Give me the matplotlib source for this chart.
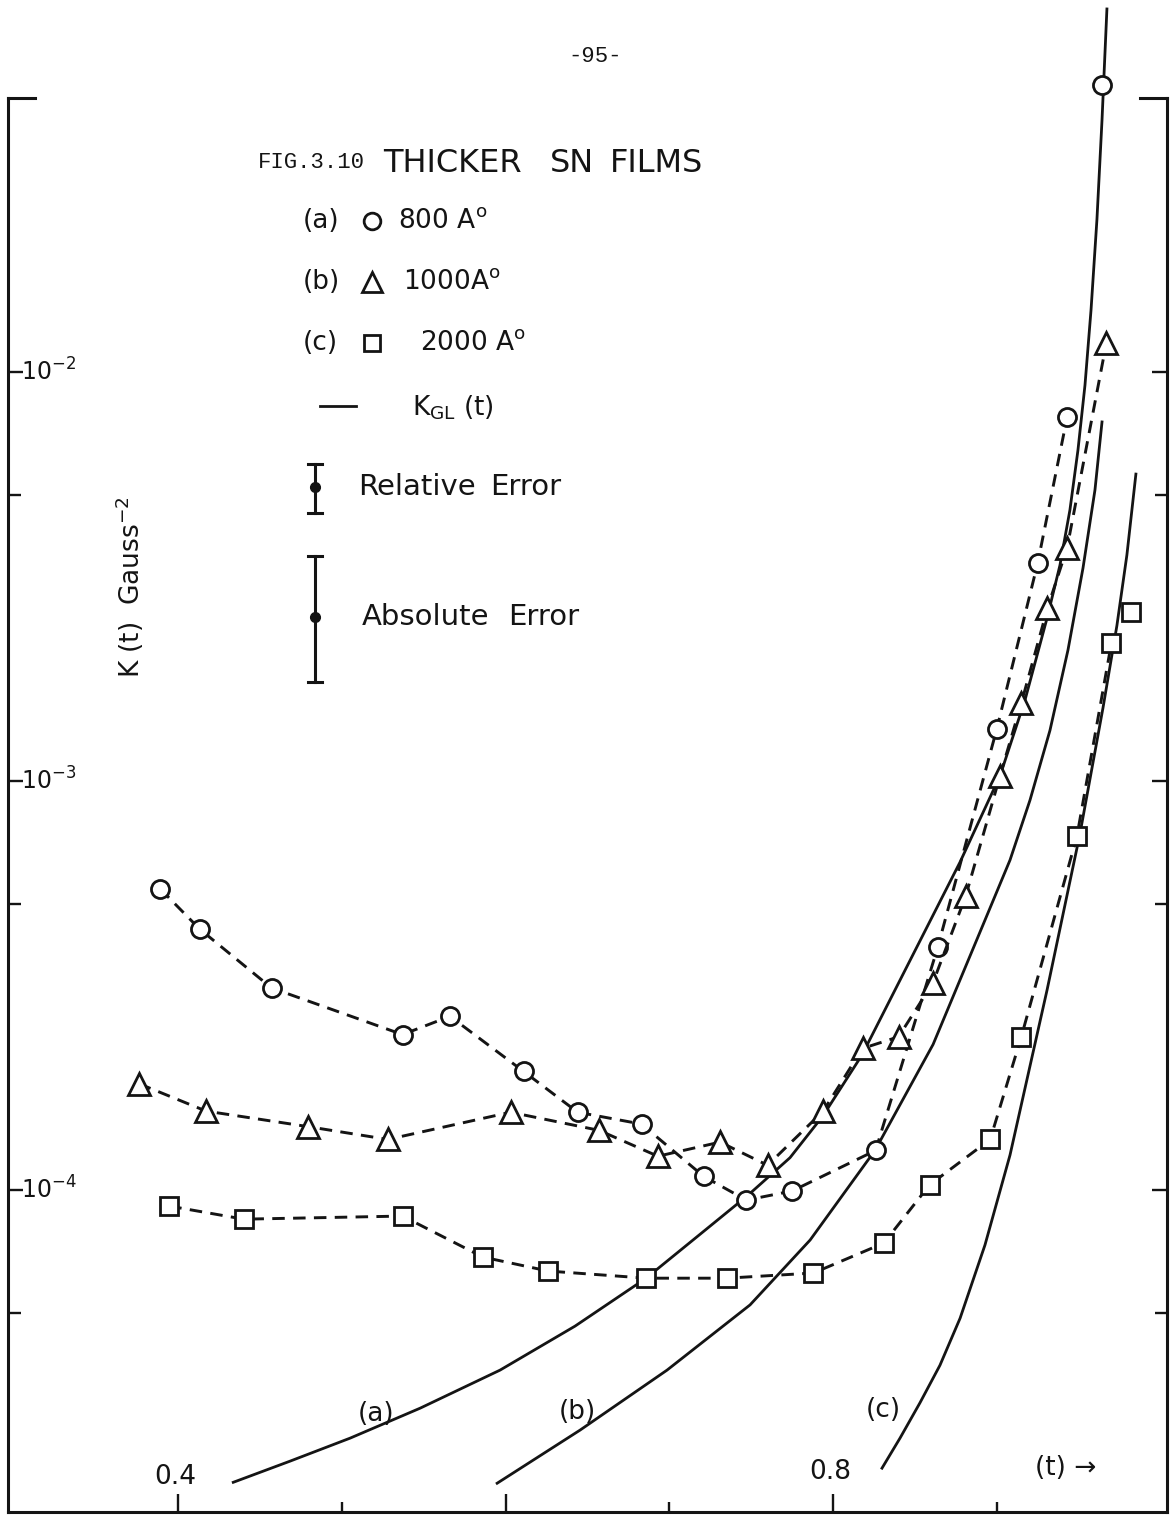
import matplotlib.pyplot as plt
from matplotlib.lines import Line2D
from matplotlib.ticker import FixedLocator, NullFormatter
import matplotlib.transforms as mtransforms

plt.rcParams['font.family'] = ['DejaVu Sans']
plt.rcParams['mathtext.fontset'] = 'dejavusans'
plt.rcParams['lines.scale_dashes'] = False

# measured points, (a) 800 A film (last point sits alone on the K_GL curve)
t_a = [0.389, 0.413, 0.457, 0.537, 0.566, 0.611, 0.644, 0.683, 0.721, 0.747,
       0.775, 0.826, 0.864, 0.900, 0.925, 0.943]
k_a = [5.45e-4, 4.35e-4, 3.12e-4, 2.40e-4, 2.66e-4, 1.95e-4, 1.55e-4, 1.45e-4,
       1.08e-4, 9.45e-5, 9.95e-5, 1.25e-4, 3.93e-4, 1.34e-3, 3.41e-3, 7.76e-3]
t_a_top = [0.964]
k_a_top = [5.04e-2]

# (b) 1000 A film
t_b = [0.376, 0.417, 0.479, 0.528, 0.603, 0.657, 0.693, 0.731, 0.760, 0.794,
       0.818, 0.840, 0.861, 0.881, 0.902, 0.915, 0.931, 0.943, 0.967]
k_b = [1.82e-4, 1.56e-4, 1.43e-4, 1.33e-4, 1.55e-4, 1.40e-4, 1.21e-4, 1.31e-4,
       1.15e-4, 1.56e-4, 2.22e-4, 2.37e-4, 3.21e-4, 5.23e-4, 1.03e-3, 1.55e-3,
       2.65e-3, 3.72e-3, 1.18e-2]

# (c) 2000 A film
t_c = [0.3945, 0.440, 0.537, 0.586, 0.626, 0.686, 0.735, 0.788, 0.831, 0.859,
       0.896, 0.915, 0.949, 0.970]
k_c = [9.14e-5, 8.49e-5, 8.64e-5, 6.86e-5, 6.34e-5, 6.09e-5, 6.09e-5, 6.27e-5,
       7.42e-5, 1.03e-4, 1.33e-4, 2.37e-4, 7.34e-4, 2.17e-3]
t_c_top = [0.982]
k_c_top = [2.59e-3]

# K_GL(t) curves
gl_t_a = [0.4336, 0.4684, 0.5050, 0.5478, 0.5966, 0.6424, 0.6858, 0.7188, 0.7481,
          0.7737, 0.7939, 0.8177, 0.8409, 0.8776, 0.9020, 0.9173, 0.9307, 0.9386,
          0.9447, 0.9496, 0.9539, 0.9576, 0.9612, 0.9643, 0.9673]
gl_k_a = [1.93e-5, 2.175e-5, 2.475e-5, 2.93e-5, 3.63e-5, 4.65e-5, 6.09e-5, 7.80e-5,
          9.72e-5, 1.20e-4, 1.52e-4, 2.14e-4, 3.26e-4, 6.34e-4, 1.03e-3, 1.58e-3,
          2.50e-3, 3.37e-3, 4.60e-3, 6.44e-3, 9.29e-3, 1.42e-2, 2.36e-2, 4.13e-2,
          7.72e-2]

gl_t_b = [0.5948, 0.6455, 0.6986, 0.7493, 0.7860, 0.8256, 0.8611, 0.8928, 0.9081,
          0.9203, 0.9325, 0.9435, 0.9527, 0.9600, 0.9643]
gl_k_b = [1.92e-5, 2.59e-5, 3.63e-5, 5.24e-5, 7.55e-5, 1.25e-4, 2.27e-4, 4.57e-4,
          6.41e-4, 8.98e-4, 1.33e-3, 2.09e-3, 3.32e-3, 5.15e-3, 7.55e-3]

gl_t_c = [0.8299, 0.8409, 0.8531, 0.8653, 0.8776, 0.8928, 0.9081, 0.9307, 0.9508,
          0.9649, 0.9734, 0.9795, 0.9850]
gl_k_c = [2.09e-5, 2.475e-5, 3.02e-5, 3.73e-5, 4.86e-5, 7.34e-5, 1.218e-4, 3.08e-4,
          7.42e-4, 1.51e-3, 2.40e-3, 3.57e-3, 5.63e-3]

y_tick_vals = [1e-4, 1e-3, 1e-2]
y_tick_labels = [r'$10^{-4}$', r'$10^{-3}$', r'$10^{-2}$']
y_minor_vals = [5e-5, 5e-4, 5e-3]
x_major_vals = [0.4, 0.6, 0.8]
x_minor_vals = [0.5, 0.7, 0.9]

ink = '#141414'
W, H = 1175, 1517


def fx(px):
    return px / W


def fy(py):
    return 1 - py / H


fig = plt.figure(figsize=(W / 100, H / 100), dpi=100)
ax = fig.add_axes([fx(8), fy(1512), (1167 - 8) / W, (1512 - 98) / H])
ax.set_yscale('log')
ax.set_xlim(0.296, 1.004)
ax.set_ylim(1.633e-5, 0.04677)

ax.spines['top'].set_visible(False)
for s in ['left', 'right', 'bottom']:
    ax.spines[s].set_linewidth(2.2)
    ax.spines[s].set_color(ink)
# little corner serifs at the top of the frame
ax.plot([0, 0.023], [1, 1], transform=ax.transAxes, color=ink, lw=2.2, clip_on=False)
ax.plot([0.977, 1], [1, 1], transform=ax.transAxes, color=ink, lw=2.2, clip_on=False)

ax.yaxis.set_major_locator(FixedLocator(y_tick_vals))
ax.yaxis.set_minor_locator(FixedLocator(y_minor_vals))
ax.yaxis.set_major_formatter(NullFormatter())
ax.yaxis.set_minor_formatter(NullFormatter())
ax.xaxis.set_major_locator(FixedLocator(x_major_vals))
ax.xaxis.set_minor_locator(FixedLocator(x_minor_vals))
ax.xaxis.set_major_formatter(NullFormatter())
ax.xaxis.set_minor_formatter(NullFormatter())
ax.tick_params(axis='y', which='both', direction='in', left=True, right=True,
               width=1.7, color=ink)
ax.tick_params(axis='y', which='major', length=11)
ax.tick_params(axis='y', which='minor', length=9)
ax.tick_params(axis='x', which='both', direction='in', top=False, width=1.7, color=ink)
ax.tick_params(axis='x', which='major', length=13)
ax.tick_params(axis='x', which='minor', length=7)

# theory curves
for tt, kk in [(gl_t_a, gl_k_a), (gl_t_b, gl_k_b), (gl_t_c, gl_k_c)]:
    ax.plot(tt, kk, '-', color=ink, lw=2.0, clip_on=False, zorder=2,
            solid_joinstyle='round')

dash = (0, (9, 6))
mk = dict(mfc='white', mec=ink, mew=2.0, clip_on=False, zorder=3)
ax.plot(t_a, k_a, linestyle=dash, color=ink, lw=2.1, marker='o', ms=13, **mk)
ax.plot(t_a_top, k_a_top, linestyle='none', marker='o', ms=13, **mk)
ax.plot(t_b, k_b, linestyle=dash, color=ink, lw=2.1, marker='^', ms=15.5, **mk)
ax.plot(t_c, k_c, linestyle=dash, color=ink, lw=2.1, marker='s', ms=13.5, **mk)
ax.plot(t_c_top, k_c_top, linestyle='none', marker='s', ms=13.5, **mk)

# y tick labels drawn inside the frame
ytr = mtransforms.blended_transform_factory(ax.transAxes, ax.transData)
for v, lab in zip(y_tick_vals, y_tick_labels):
    ax.text(0.011, v, lab, transform=ytr, ha='left', va='center', fontsize=17, color=ink)

xtr = mtransforms.blended_transform_factory(ax.transData, ax.transAxes)
ax.text(0.398, 0.025, '0.4', transform=xtr, ha='center', va='center', fontsize=19, color=ink)
ax.text(0.798, 0.028, '0.8', transform=xtr, ha='center', va='center', fontsize=19, color=ink)
ax.text(0.942, 0.031, '(t) →', transform=xtr, ha='center', va='center', fontsize=19, color=ink)

# curve labels
ax.text(fx(376), fy(1414), '(a)', transform=fig.transFigure, ha='center', va='center', fontsize=19, color=ink)
ax.text(fx(577), fy(1412), '(b)', transform=fig.transFigure, ha='center', va='center', fontsize=19, color=ink)
ax.text(fx(883), fy(1410), '(c)', transform=fig.transFigure, ha='center', va='center', fontsize=19, color=ink)

# y label
fig.text(fx(130), fy(587), r'K (t)  Gauss$^{-2}$', rotation=90, ha='center', va='center',
         fontsize=19, color=ink)

# page number and title block
fig.text(fx(595), fy(57), '-95-', ha='center', va='center', fontsize=16,
         family='Liberation Mono', color=ink)
fig.text(fx(258), fy(163), 'FIG.3.10', ha='left', va='center', fontsize=16,
         family='Liberation Mono', color=ink)
for word, px in [('THICKER', 383), ('SN', 550), ('FILMS', 610)]:
    fig.text(fx(px), fy(163), word, ha='left', va='center', fontsize=23, color=ink)

rows = [('(a)', 'o', 12, '800 A$^{\\mathrm{o}}$', 221, 398),
        ('(b)', '^', 14, '1000A$^{\\mathrm{o}}$', 282, 403),
        ('(c)', 's', 12, '2000 A$^{\\mathrm{o}}$', 343, 420)]
for tag, m, ms, lab, py, lx in rows:
    fig.text(fx(303), fy(py), tag, ha='left', va='center', fontsize=19, color=ink)
    fig.add_artist(Line2D([fx(372)], [fy(py)], marker=m, ms=ms, mfc='white', mec=ink,
                          mew=2.0, linestyle='none', transform=fig.transFigure))
    fig.text(fx(lx), fy(py), lab, ha='left', va='center', fontsize=19, color=ink)

fig.add_artist(Line2D([fx(320), fx(356)], [fy(406), fy(406)], color=ink, lw=2.0,
                      transform=fig.transFigure))
fig.text(fx(412), fy(408), r'K$_{\mathrm{GL}}$ (t)', ha='left', va='center', fontsize=19, color=ink)

# error bar key
for top, bot, mid, w1, x1, w2, x2 in [(464, 513, 487, 'Relative', 358, 'Error', 490),
                                       (556, 682, 617, 'Absolute', 362, 'Error', 508)]:
    fig.add_artist(Line2D([fx(315), fx(315)], [fy(top), fy(bot)], color=ink, lw=2.2,
                          transform=fig.transFigure))
    for yy in (top, bot):
        fig.add_artist(Line2D([fx(308), fx(322)], [fy(yy), fy(yy)], color=ink, lw=2.2,
                              transform=fig.transFigure))
    fig.add_artist(Line2D([fx(315)], [fy(mid)], marker='o', ms=7, color=ink,
                          linestyle='none', transform=fig.transFigure))
    fig.text(fx(x1), fy(mid), w1, ha='left', va='center', fontsize=21, color=ink)
    fig.text(fx(x2), fy(mid), w2, ha='left', va='center', fontsize=21, color=ink)

fig.savefig('out.png', dpi=100, facecolor='white')
